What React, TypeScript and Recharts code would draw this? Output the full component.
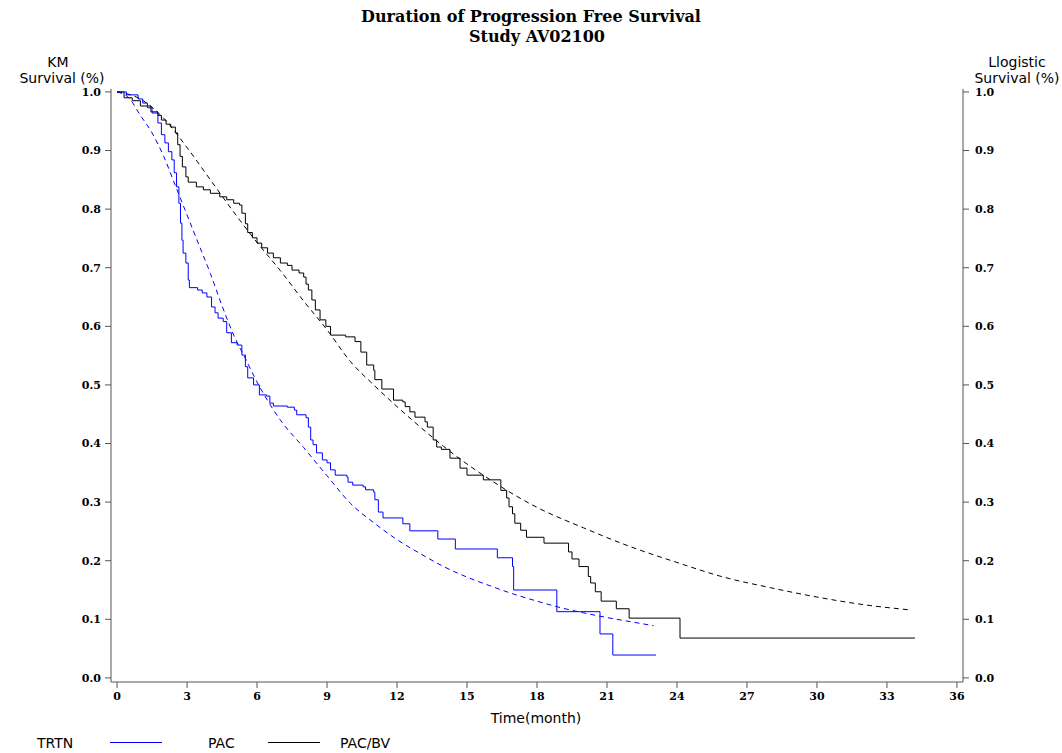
import React from "react";
import { ComposedChart, Line, XAxis, YAxis } from "recharts";

// x axis: months, y axis: survival probability
const monthTicks = [0, 3, 6, 9, 12, 15, 18, 21, 24, 27, 30, 33, 36];
const survTicks = [0, 0.1, 0.2, 0.3, 0.4, 0.5, 0.6, 0.7, 0.8, 0.9, 1.0];

// Kaplan-Meier steps [month, survival] for PAC
const pacKm: [number, number][] = [
    [0, 1.0], [0.4, 0.995], [0.9, 0.988], [1.1, 0.981], [1.3, 0.973], [1.5, 0.964],
    [1.75, 0.947], [1.9, 0.927], [2.05, 0.913], [2.2, 0.898], [2.35, 0.884], [2.45, 0.862],
    [2.55, 0.838], [2.65, 0.81], [2.72, 0.776], [2.78, 0.747], [2.83, 0.725], [2.95, 0.708],
    [3.05, 0.679], [3.1, 0.666], [3.45, 0.662], [3.65, 0.657], [3.85, 0.65], [4.05, 0.633],
    [4.2, 0.623], [4.33, 0.614], [4.55, 0.608], [4.7, 0.589], [4.9, 0.572], [5.15, 0.568],
    [5.35, 0.551], [5.5, 0.531], [5.6, 0.512], [5.85, 0.5], [6.1, 0.483], [6.4, 0.481],
    [6.55, 0.469], [6.7, 0.464], [7.3, 0.462], [7.6, 0.457], [7.7, 0.449], [8.1, 0.444],
    [8.2, 0.428], [8.3, 0.406], [8.4, 0.398], [8.55, 0.384], [8.8, 0.372], [9.0, 0.367],
    [9.15, 0.355], [9.35, 0.346], [9.85, 0.343], [9.9, 0.334], [10.1, 0.329], [10.55, 0.326],
    [10.65, 0.321], [11.0, 0.317], [11.05, 0.304], [11.2, 0.283], [11.4, 0.273], [12.25, 0.263],
    [12.55, 0.251], [13.75, 0.237], [14.5, 0.22], [16.3, 0.205], [16.95, 0.19], [17.0, 0.15],
    [18.85, 0.113], [20.7, 0.075], [21.25, 0.039], [23.1, 0.039],
];

// Kaplan-Meier steps [month, survival] for PAC/BV
const pacBvKm: [number, number][] = [
    [0, 1.0], [0.3, 0.99], [0.65, 0.985], [1.0, 0.976], [1.45, 0.966], [1.75, 0.96],
    [1.9, 0.952], [2.1, 0.945], [2.3, 0.94], [2.5, 0.93], [2.6, 0.91], [2.7, 0.89],
    [2.8, 0.872], [2.95, 0.855], [3.05, 0.846], [3.4, 0.838], [3.7, 0.833], [4.0, 0.827],
    [4.4, 0.821], [4.7, 0.816], [5.0, 0.81], [5.25, 0.807], [5.35, 0.793], [5.5, 0.775],
    [5.6, 0.76], [5.8, 0.751], [6.0, 0.742], [6.2, 0.734], [6.45, 0.725], [6.7, 0.717],
    [7.0, 0.708], [7.3, 0.704], [7.5, 0.696], [7.8, 0.691], [8.0, 0.684], [8.1, 0.672],
    [8.2, 0.662], [8.35, 0.645], [8.5, 0.628], [8.7, 0.611], [8.95, 0.6], [9.15, 0.585],
    [9.8, 0.582], [10.2, 0.574], [10.45, 0.556], [10.7, 0.534], [11.0, 0.525], [11.05, 0.509],
    [11.35, 0.493], [11.85, 0.474], [12.25, 0.471], [12.35, 0.463], [12.55, 0.454], [12.77, 0.445],
    [13.2, 0.437], [13.3, 0.428], [13.55, 0.406], [13.7, 0.394], [13.9, 0.39], [14.27, 0.375],
    [14.7, 0.358], [15.0, 0.346], [15.7, 0.338], [16.45, 0.32], [16.7, 0.307], [16.8, 0.292],
    [16.95, 0.28], [17.05, 0.264], [17.3, 0.252], [17.55, 0.24], [18.3, 0.23], [19.35, 0.215],
    [19.5, 0.203], [19.8, 0.19], [20.2, 0.173], [20.3, 0.162], [20.5, 0.147], [20.75, 0.131],
    [21.4, 0.118], [21.95, 0.102], [24.13, 0.068], [34.2, 0.068],
];

// log-logistic fitted curves
const pacFit: [number, number][] = [
    [0, 1.0], [0.5, 0.99], [1, 0.96], [1.5, 0.93], [2, 0.89], [2.5, 0.84], [3, 0.79],
    [3.5, 0.74], [4, 0.69], [4.5, 0.635], [5, 0.585], [5.5, 0.545], [6, 0.505], [7, 0.44],
    [8, 0.393], [9, 0.345], [10, 0.298], [11, 0.265], [12, 0.236], [13, 0.212], [14, 0.19],
    [15, 0.172], [16, 0.157], [17, 0.143], [18, 0.131], [19, 0.12], [20, 0.111], [21, 0.103],
    [22, 0.096], [23, 0.089],
];

const pacBvFit: [number, number][] = [
    [0, 1.0], [1, 0.988], [2, 0.955], [3, 0.905], [4, 0.85], [5, 0.795], [6, 0.743],
    [7, 0.695], [8, 0.643], [9, 0.594], [10, 0.54], [11, 0.5], [12, 0.463], [13, 0.428],
    [14, 0.395], [15, 0.365], [16, 0.338], [17, 0.313], [18, 0.291], [20, 0.256], [22, 0.224],
    [24, 0.197], [26, 0.172], [28, 0.154], [30, 0.138], [32, 0.125], [34, 0.116],
];

const rows = (pts: [number, number][]) => pts.map(([t, s]) => ({ t, s }));

const AXIS = "#555";
const tickStyle = { fontFamily: "DejaVu Serif", fontWeight: "bold", fontSize: 11, fill: "#000" };
const sans = { fontFamily: "DejaVu Sans", fontSize: 14, fill: "#000" };
const serif = { fontFamily: "DejaVu Serif", fontWeight: "bold", fontSize: 16, fill: "#000" };

export default function App() {
    return (
        <div style={{ position: "absolute", left: 0, top: 0, width: 1062, height: 753, background: "#fff" }}>
            <ComposedChart
                width={1062}
                height={753}
                margin={{ top: 89, right: 59, bottom: 41, left: 71 }}
            >
                <XAxis
                    xAxisId="top"
                    orientation="top"
                    dataKey="t"
                    type="number"
                    domain={[-0.26, 36.26]}
                    allowDataOverflow
                    height={0}
                    tick={false}
                    tickLine={false}
                    axisLine={{ stroke: AXIS }}
                />
                <XAxis
                    dataKey="t"
                    type="number"
                    domain={[-0.26, 36.26]}
                    allowDataOverflow
                    ticks={monthTicks}
                    interval={0}
                    height={30}
                    tickSize={6}
                    tickMargin={4}
                    tick={tickStyle}
                    stroke={AXIS}
                />
                <YAxis
                    yAxisId="left"
                    type="number"
                    domain={[-0.007, 1.005]}
                    allowDataOverflow
                    ticks={survTicks}
                    interval={0}
                    width={40}
                    tickSize={6}
                    tickMargin={4}
                    tick={tickStyle}
                    tickFormatter={(v: number) => v.toFixed(1)}
                    stroke={AXIS}
                />
                <YAxis
                    yAxisId="right"
                    orientation="right"
                    type="number"
                    domain={[-0.007, 1.005]}
                    allowDataOverflow
                    ticks={survTicks}
                    interval={0}
                    width={40}
                    tickSize={6}
                    tickMargin={6}
                    tick={tickStyle}
                    tickFormatter={(v: number) => v.toFixed(1)}
                    stroke={AXIS}
                />
                <Line
                    data={rows(pacBvFit)}
                    yAxisId="right"
                    dataKey="s"
                    type="monotone"
                    stroke="#000"
                    strokeWidth={1}
                    strokeDasharray="5 4"
                    dot={false}
                    activeDot={false}
                    isAnimationActive={false}
                />
                <Line
                    data={rows(pacFit)}
                    yAxisId="right"
                    dataKey="s"
                    type="monotone"
                    stroke="#0000ff"
                    strokeWidth={1}
                    strokeDasharray="5 4"
                    dot={false}
                    activeDot={false}
                    isAnimationActive={false}
                />
                <Line
                    data={rows(pacBvKm)}
                    yAxisId="left"
                    dataKey="s"
                    type="stepAfter"
                    stroke="#000"
                    strokeWidth={1}
                    dot={false}
                    activeDot={false}
                    isAnimationActive={false}
                />
                <Line
                    data={rows(pacKm)}
                    yAxisId="left"
                    dataKey="s"
                    type="stepAfter"
                    stroke="#0000ff"
                    strokeWidth={1}
                    dot={false}
                    activeDot={false}
                    isAnimationActive={false}
                />
            </ComposedChart>
            <svg
                width={1062}
                height={753}
                style={{ position: "absolute", left: 0, top: 0, pointerEvents: "none" }}
            >
                <text x={531} y={22} textAnchor="middle" style={serif}>Duration of Progression Free Survival</text>
                <text x={537} y={42} textAnchor="middle" style={serif}>Study AV02100</text>

                <text x={58} y={67} textAnchor="middle" style={sans}>KM</text>
                <text x={62} y={83} textAnchor="middle" style={sans}>Survival (%)</text>
                <text x={1017} y={67} textAnchor="middle" style={sans}>Llogistic</text>
                <text x={1017} y={83} textAnchor="middle" style={sans}>Survival (%)</text>

                <text x={536} y={723} textAnchor="middle" style={sans}>Time(month)</text>

                <text x={37} y={748} style={sans}>TRTN</text>
                <line x1={110} y1={742.5} x2={162} y2={742.5} stroke="#0000ff" strokeWidth={1} />
                <text x={208} y={748} style={sans}>PAC</text>
                <line x1={268} y1={742.5} x2={320} y2={742.5} stroke="#000" strokeWidth={1} />
                <text x={340} y={748} style={sans}>PAC/BV</text>
            </svg>
        </div>
    );
}
